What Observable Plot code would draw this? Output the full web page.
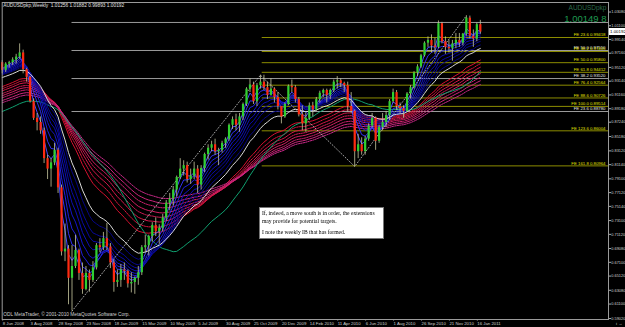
<!DOCTYPE html>
<html><head><meta charset="utf-8">
<script src="https://cdn.jsdelivr.net/npm/d3@7"></script>
<script src="https://cdn.jsdelivr.net/npm/@observablehq/plot@0.6"></script>
<style>
body{margin:0;background:#000;}
#wrap{position:relative;width:625px;height:327px;background:#000;overflow:hidden;font-family:"Liberation Sans",Arial,sans-serif;}
.note{position:absolute;background:#fff;border:1px solid #777;color:#000;font-family:"Liberation Serif","Times New Roman",serif;font-size:5.6px;line-height:7.5px;padding:2px 2px;box-sizing:border-box;white-space:nowrap;will-change:transform;}
.note span{color:#000;display:block;}
.pbox{position:absolute;background:#fff;color:#000;font-size:4.4px;line-height:7px;height:7px;padding:0 1px;}
</style></head><body><div id="wrap"></div>
<script>
// ---- data (weekly AUDUSD, index 0 = week of 8 Jun 2008) ----
const opens = [
.9580,.9470,.9560,.9580,.9620,.9660,.9720,.9480,.9370,.9020,
.8780,.8720,.8600,.8200,.8050,.8140,.8320,.7780,.6860,.6900,
.6480,.6650,.6880,.6550,.6320,.6550,.6450,.6630,.6950,.6920,
.7050,.6930,.6700,.6420,.6450,.6600,.6580,.6400,.6420,.6480,
.6560,.6920,.6950,.7080,.7240,.7150,.7200,.7350,.7560,.7620,
.7750,.7930,.8050,.8100,.7900,.7950,.8050,.7820,.8060,.8260,
.8350,.8400,.8300,.8320,.8420,.8480,.8680,.8760,.8680,.8800,
.8980,.9200,.9260,.9020,.9250,.9300,.9220,.9110,.9200,.9080,
.8950,.8800,.8980,.9240,.9220,.9050,.8830,.8700,.8780,.8960,
.8900,.9050,.9140,.9180,.9110,.9180,.9300,.9320,.9280,.9250,
.8950,.8880,.8300,.8400,.8300,.8480,.8670,.8780,.8450,.8650,
.8720,.8820,.9020,.9150,.8950,.8920,.8880,.9130,.9220,.9430,
.9520,.9680,.9860,.9900,.9820,.9800,1.0140,.9880,.9800,.9780,
.9850,.9900,.9860,.9990,1.0220,.9960,.9920,1.01256];
const highs = [
.9610,.9580,.9600,.9650,.9700,.9850,.9760,.9500,.9380,.9060,
.8850,.8800,.8640,.8250,.8200,.8420,.8350,.7820,.7260,.6950,
.6950,.7100,.6900,.6700,.6650,.6600,.6720,.6980,.7050,.7140,
.7270,.6980,.6740,.6600,.6680,.6700,.6600,.6560,.6500,.6650,
.6950,.7100,.7100,.7280,.7350,.7250,.7400,.7600,.7700,.7800,
.7950,.8200,.8170,.8150,.8050,.8150,.8100,.8100,.8280,.8400,
.8450,.8480,.8350,.8450,.8500,.8700,.8800,.8840,.8850,.9000,
.9220,.9350,.9300,.9280,.9400,.9400,.9300,.9350,.9220,.9150,
.8950,.9000,.9260,.9330,.9250,.9080,.8960,.8850,.9000,.9010,
.9080,.9170,.9200,.9200,.9200,.9330,.9380,.9350,.9300,.9300,
.9150,.8900,.8550,.8500,.8520,.8700,.8850,.8800,.8680,.8850,
.8880,.9050,.9200,.9180,.9000,.8960,.9150,.9250,.9450,.9550,
.9700,.9880,.9950,.9980,.9930,1.0180,1.0160,.9950,.9900,.9900,
1.0000,1.0000,1.0000,1.0255,1.0250,1.0050,1.0150,1.01882];
const lows = [
.9420,.9440,.9500,.9540,.9560,.9630,.9420,.9300,.9000,.8750,
.8600,.8550,.8130,.7900,.7790,.8100,.7700,.6800,.6720,.6100,
.6008,.6620,.6450,.6250,.6300,.6280,.6420,.6600,.6850,.6880,
.6880,.6620,.6280,.6350,.6350,.6450,.6340,.6270,.6250,.6380,
.6520,.6850,.6800,.7000,.7080,.6970,.7150,.7300,.7450,.7520,
.7650,.7900,.7950,.7850,.7830,.7900,.7700,.7750,.8000,.8180,
.8300,.8250,.8100,.8280,.8350,.8450,.8620,.8600,.8580,.8750,
.8950,.9150,.8980,.8950,.9200,.9180,.9050,.9100,.9000,.8900,
.8700,.8780,.8960,.9150,.9000,.8800,.8600,.8580,.8750,.8800,
.8880,.9000,.9080,.9000,.9050,.9150,.9200,.9220,.9150,.8870,
.8850,.8087,.8200,.8250,.8250,.8450,.8640,.8320,.8420,.8600,
.8650,.8750,.9000,.8900,.8850,.8780,.8860,.9060,.9200,.9380,
.9500,.9660,.9800,.9720,.9700,.9780,.9850,.9700,.9720,.9600,
.9780,.9800,.9820,.9960,.9920,.9800,.9880,.99893];
const closes = [
.9470,.9560,.9580,.9620,.9660,.9720,.9480,.9370,.9020,.8780,
.8720,.8600,.8200,.8050,.8140,.8320,.7780,.6860,.6900,.6480,
.6650,.6880,.6550,.6320,.6550,.6450,.6630,.6950,.6920,.7050,
.6930,.6700,.6420,.6450,.6600,.6580,.6400,.6420,.6480,.6560,
.6920,.6950,.7080,.7240,.7150,.7200,.7350,.7560,.7620,.7750,
.7930,.8050,.8100,.7900,.7950,.8050,.7820,.8060,.8260,.8350,
.8400,.8300,.8320,.8420,.8480,.8680,.8760,.8680,.8800,.8980,
.9200,.9260,.9020,.9250,.9300,.9220,.9110,.9200,.9080,.8950,
.8800,.8980,.9240,.9220,.9050,.8830,.8700,.8780,.8960,.8900,
.9050,.9140,.9180,.9110,.9180,.9300,.9320,.9280,.9250,.8950,
.8880,.8300,.8400,.8300,.8480,.8670,.8780,.8450,.8650,.8720,
.8820,.9020,.9150,.8950,.8920,.8880,.9130,.9220,.9430,.9520,
.9680,.9860,.9900,.9820,.9800,1.0140,.9880,.9800,.9780,.9850,
.9900,.9860,.9990,1.0220,.9960,.9920,1.0126,1.00192];

const xTickIdx = [0,8,16,24,32,40,48,56,64,72,80,88,96,104,112,120,128,136];
const xTickLabels = ["8 Jun 2008","3 Aug 2008","28 Sep 2008","23 Nov 2008","18 Jan 2009","15 Mar 2009","10 May 2009","5 Jul 2009","30 Aug 2009","25 Oct 2009","20 Dec 2009","14 Feb 2010","11 Apr 2010","6 Jun 2010","1 Aug 2010","26 Sep 2010","21 Nov 2010","16 Jan 2011"];
const yTicks = [1.03080,1.01100,0.99140,0.97160,0.95120,0.93140,0.91160,0.89180,0.87240,0.85180,0.83120,0.81140,0.79100,0.77120,0.75140,0.73100,0.71120,0.69080,0.67100,0.65120,0.63080,0.61100,0.59020];

// Fibonacci expansion (yellow) and second expansion (gray)
const feNames  = ["23.6","38.2","50.0","61.8","76.4","88.6","100.0","123.6","161.8"];
const feValues = [0.99418,0.97405,0.95800,0.94412,0.92564,0.90726,0.89514,0.86004,0.80964];
const feStart = 74.5;
const fe2Names  = ["61.8","50.0","38.2","23.6"];
const fe2Values = [1.01580,0.97550,0.93520,0.88780];
const fe2Labelled = [false,true,true,true];
const fe2Start = 20;

// zigzag swing points
const zzIdx = [20,74,101,133];
const zzVal = [0.6008,0.9400,0.8087,1.0255];

// moving averages (periods and their values at the first bar)
const bluePeriods = [3,5,7,9,11,13,15,18];
const blueSeeds   = [0.952,0.950,0.948,0.946,0.944,0.942,0.941,0.940];
const whitePeriod = 21, whiteSeed = 0.9356;
const redPeriods  = [32,36,40,44,48,53,58,64];
const redSeeds    = [0.922,0.919,0.916,0.912,0.909,0.906,0.902,0.899];
const tealPeriod  = 34, tealSeed = 0.886;

const titleText = "AUDUSDpkp,Weekly  1.01256 1.01882 0.99893 1.00192";
const copyText = "ODL MetaTrader, \u00a9 2001-2010 MetaQuotes Software Corp.";
const noteLines = ["If, indeed, a move south is in order, the extensions","may provide for potential targets.","","I note the weekly IB that has formed."];

// ---- build ----
const bars = closes.map((c,i)=>({i,o:opens[i],h:highs[i],l:lows[i],c,up:c>=opens[i]}));
function ema(period, seed){ const k=2/(period+1); let e=seed; return closes.map((c,i)=>({i, v:(e = e + k*(c-e))})); }
function sma(period, seed){ return closes.map((c,i)=>{ const from=Math.max(0,i-period+1); const part=d3.sum(closes.slice(from,i+1)); return {i, v:(part + seed*(period-(i+1-from)))/period}; }); }
const W=625,H=327, ML=1.7, MR=17, MT=2, MB=8, barW=3.49;
const xMax = (W-MR-ML)/barW;
const blueCols = ["#4848ff","#3030f0","#2020dc","#1414c8","#0e0eb4","#0a0aa4","#080894","#060684"];
const redCols = redPeriods.map((p,k)=>d3.interpolateRgb("#d81030","#c82888")(k/(redPeriods.length-1)));
const feTable = feValues.map((v,k)=>({v, t:`FE ${feNames[k]} ${v.toFixed(5)}`}));
const fe2Table = fe2Values.map((v,k)=>({v, t:`FE ${fe2Names[k]} ${v.toFixed(5)}`, show:fe2Labelled[k]}));
const zz = zzIdx.map((i,k)=>({i, v:zzVal[k]}));

const marks = [
  Plot.ruleY(fe2Table,{y:"v", x1:fe2Start, x2:xMax, stroke:"#9a9a9a", strokeWidth:1}),
  Plot.ruleY(feTable,{y:"v", x1:feStart, x2:xMax, stroke:"#8c8c00", strokeWidth:1}),
  ...redPeriods.map((p,k)=>Plot.line(ema(p,redSeeds[k]),{x:"i", y:"v", stroke:redCols[k], strokeWidth:1, strokeDasharray: k%2? "1.5,1":null})),
  Plot.line(sma(tealPeriod,tealSeed),{x:"i", y:"v", stroke:"#10a070", strokeWidth:1}),
  ...bluePeriods.map((p,k)=>Plot.line(ema(p,blueSeeds[k]),{x:"i", y:"v", stroke:blueCols[k], strokeWidth:1})),
  Plot.line(ema(whitePeriod,whiteSeed),{x:"i", y:"v", stroke:"#d8d8d8", strokeWidth:1}),
  Plot.line(zz,{x:"i", y:"v", stroke:"#cfcfcf", strokeWidth:0.8, strokeDasharray:"1,2"}),
  Plot.ruleX(bars,{x:"i", y1:"l", y2:"h", stroke:"#c8c8a0", strokeWidth:0.8}),
  Plot.ruleX(bars,{x:"i", y1:"o", y2:"c", stroke:d=>d.up?"#30d030":"#ff2a10", strokeWidth:2.2}),
  Plot.text(fe2Table.filter(d=>d.show),{x:xMax, y:"v", text:"t", textAnchor:"end", dx:-3, dy:-2.6, fontSize:4.3, fill:"#e8e8e8"}),
  Plot.text(feTable,{x:xMax, y:"v", text:"t", textAnchor:"end", dx:-3, dy:-2.6, fontSize:4.3, fill:"#e0e000"}),
  Plot.text([titleText],{frameAnchor:"top-left", dx:1, dy:1.5, fontSize:4.8, fill:"#e0e0e0"}),
  Plot.text([copyText],{frameAnchor:"bottom-left", dx:1, dy:-4, fontSize:4.8, fill:"#d0d0d0"}),
  Plot.text(["AUDUSDpkp"],{frameAnchor:"top-right", dx:-2, dy:3, fontSize:6.5, fill:"#2d6b4b"}),
  Plot.text(["1.00149 8"],{frameAnchor:"top-right", dx:-2, dy:13, fontSize:9.5, fill:"#1f9a50"}),
  Plot.axisX({ticks:xTickIdx, tickFormat:d=>xTickLabels[xTickIdx.indexOf(d)], anchor:"bottom", textAnchor:"start", tickSize:1.5, tickPadding:0.5, fontSize:4.3, stroke:"#aaa", fill:"#d0d0d0", dx:0.5}),
  Plot.axisY({ticks:yTicks, tickFormat:d=>d.toFixed(5), anchor:"right", tickSize:2, tickPadding:0.8, fontSize:3.9, stroke:"#aaa", fill:"#d0d0d0"}),
  Plot.frame({stroke:"#9a9a9a", strokeWidth:1})
];

const chart = Plot.plot({
  width:W, height:H, marginLeft:ML, marginRight:MR, marginTop:MT, marginBottom:MB,
  style:{background:"#000", color:"#d0d0d0", fontFamily:"'Liberation Sans', Arial, sans-serif", overflow:"visible"},
  x:{type:"linear", domain:[0,xMax], axis:null},
  y:{type:"linear", domain:[0.5888,1.0445], axis:null},
  marks
});
const wrap = document.getElementById("wrap");
wrap.appendChild(chart);

// current price box on the price axis
const ys = chart.scale("y");
const pb = document.createElement("div");
pb.className="pbox"; pb.textContent = closes[closes.length-1].toFixed(5);
pb.style.left = (W-MR+1)+"px"; pb.style.top = (ys.apply(closes[closes.length-1])-3.5)+"px";
wrap.appendChild(pb);

// comment box
const note = document.createElement("div");
note.className="note";
note.style.left="259px"; note.style.top="207px"; note.style.width="125px"; note.style.height="32px";
note.innerHTML = noteLines.map(s=>s?`<span>${s}</span>`:"<span style='height:4px'></span>").join("");
wrap.appendChild(note);
</script></body></html>
